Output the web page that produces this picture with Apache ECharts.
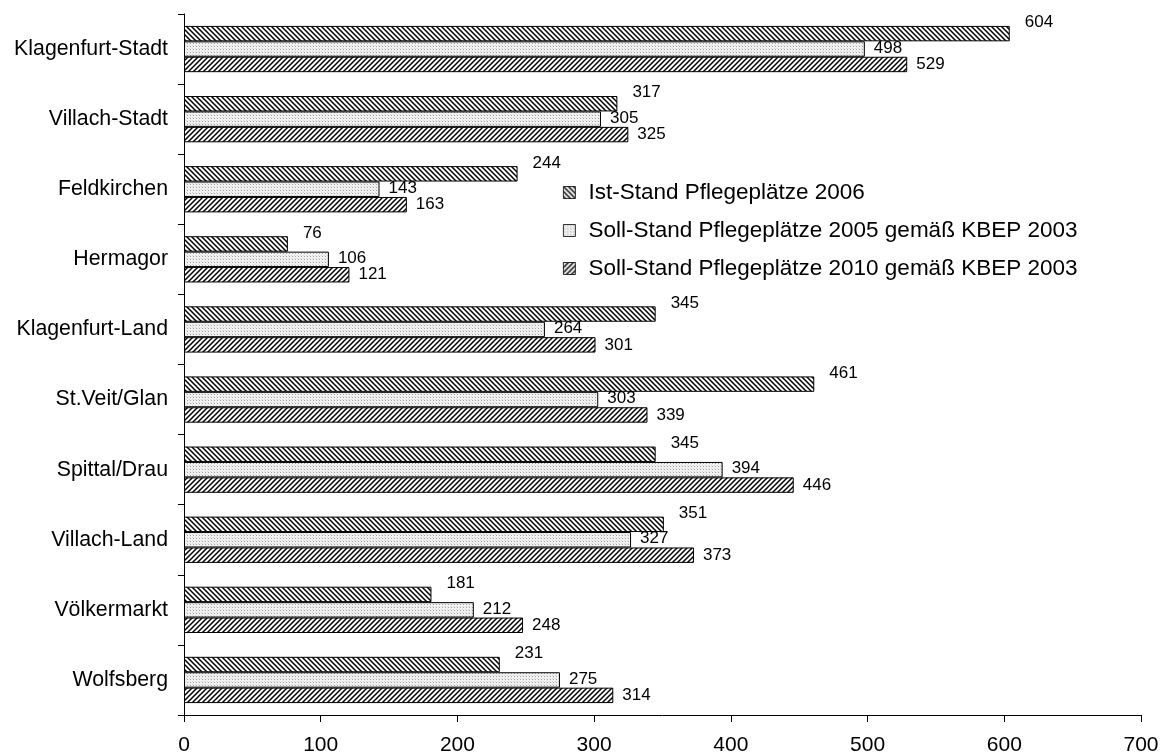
<!DOCTYPE html>
<html>
<head>
<meta charset="utf-8">
<script src="https://cdn.jsdelivr.net/npm/echarts@6/dist/echarts.min.js"></script>
<style>
html,body{margin:0;padding:0;background:#fff;}
#chart{width:1168px;height:756px;}
</style>
</head>
<body>
<div id="chart"></div>
<script>
const categories = ['Klagenfurt-Stadt','Villach-Stadt','Feldkirchen','Hermagor','Klagenfurt-Land','St.Veit/Glan','Spittal/Drau','Villach-Land','Völkermarkt','Wolfsberg'];
const seriesNames = ['Ist-Stand Pflegeplätze 2006','Soll-Stand Pflegeplätze 2005 gemäß KBEP 2003','Soll-Stand Pflegeplätze 2010 gemäß KBEP 2003'];
const ist2006 = [604,317,244,76,345,461,345,351,181,231];
const soll2005 = [498,305,143,106,264,303,394,327,212,275];
const soll2010 = [529,325,163,121,301,339,446,373,248,314];
const xTicks = [0,100,200,300,400,500,600,700];

function hatch(dir){
  const n = 5;
  const c = document.createElement('canvas');
  c.width = n; c.height = n;
  const g = c.getContext('2d');
  g.fillStyle = '#fff'; g.fillRect(0,0,n,n);
  g.strokeStyle = '#000'; g.lineWidth = 1.5;
  g.beginPath();
  for (let k=-1;k<=1;k++){
    if (dir === 'down'){
      g.moveTo(k*n-1, -1); g.lineTo(k*n+n+1, n+1);
    } else {
      g.moveTo(k*n-1, n+1); g.lineTo(k*n+n+1, -1);
    }
  }
  g.stroke();
  return {image:c, repeat:'repeat'};
}
function dots(){
  const n = 3;
  const c = document.createElement('canvas');
  c.width = n; c.height = n;
  const g = c.getContext('2d');
  g.fillStyle = '#f2f2f2'; g.fillRect(0,0,n,n);
  g.fillStyle = '#a0a0a0'; g.fillRect(1,1,1,1);
  g.fillStyle = '#d6d6d6'; g.fillRect(0,0,1,1);
  return {image:c, repeat:'repeat'};
}
const fills = [hatch('down'), dots(), hatch('up')];
const values = [ist2006, soll2005, soll2010];
const labelOffsets = [[8,-11],[2,-1],[2,0]];

const chart = echarts.init(document.getElementById('chart'), null, {renderer:'canvas'});
const font = 'Liberation Sans, Arial, sans-serif';
chart.setOption({
  animation:false,
  backgroundColor:'#fff',
  grid:{left:184,right:27,top:14,bottom:41,containLabel:false},
  legend:{
    orient:'vertical', left:558, top:176,
    itemWidth:12, itemHeight:12, itemGap:15,
    icon:'rect',
    itemStyle:{borderWidth:0.8},
    textStyle:{fontFamily:font,fontSize:22.5,color:'#000',lineHeight:22,padding:[0,0,0,8]},
    data:seriesNames
  },
  xAxis:{
    type:'value', min:xTicks[0], max:xTicks[xTicks.length-1], interval:100,
    axisLine:{show:true,lineStyle:{color:'#000',width:1}},
    axisTick:{show:true,length:7,lineStyle:{color:'#000'}},
    splitLine:{show:false},
    axisLabel:{fontFamily:font,fontSize:21,color:'#000',margin:20}
  },
  yAxis:{
    type:'category', data:categories, inverse:true,
    axisLine:{show:true,lineStyle:{color:'#000',width:1}},
    axisTick:{show:true,length:6,lineStyle:{color:'#000'}},
    axisLabel:{fontFamily:font,fontSize:21.3,color:'#000',margin:16}
  },
  series: seriesNames.map((name,i)=>({
    name:name, type:'bar', data:values[i],
    barGap:'0%', barCategoryGap:'34%',
    itemStyle:{color:fills[i], borderColor:'#000', borderWidth:1},
    label:{show:true, position:'right', distance:7, offset:labelOffsets[i],
      fontFamily:font, fontSize:17, color:'#000'}
  }))
});
</script>
</body>
</html>
